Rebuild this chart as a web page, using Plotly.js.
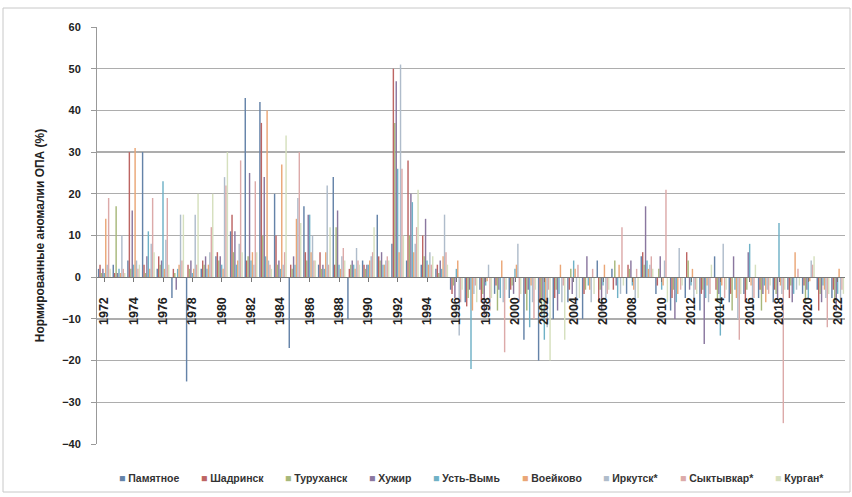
<!DOCTYPE html>
<html>
<head>
<meta charset="utf-8">
<script src="https://cdn.plot.ly/plotly-3.0.1.min.js"></script>
<style>html,body{margin:0;padding:0;background:#fff;}#chart{width:852px;height:497px;}</style>
</head>
<body>
<div id="chart"></div>
<script>
const years = [];
for (let y = 1972; y <= 2022; y++) years.push(y);

const seriesNames = ["Памятное", "Шадринск", "Туруханск", "Хужир", "Усть-Вымь", "Воейково", "Иркутск*", "Сыктывкар*", "Курган*"];

// values per year 1972..2022
const pamyatnoe = [2,3,4,30,2,-5,-25,2,5,11,43,42,20,-17,17,3,24,-10,4,15,8,4,3,2,-3,-6,-3,-4,-5,-15,-20,-10,-6,-10,4,2,-4,5,-4,-8,-5,-8,5,-6,-4,-5,-6,-3,-4,-3,-5];
const shadrinsk = [3,1,30,3,5,2,3,4,6,15,4,37,10,3,6,6,3,2,3,5,50,28,10,3,-4,-7,-6,-2,-3,-4,-6,-5,-3,-4,-6,-3,3,6,-2,-5,6,-4,-3,-4,-6,-3,-3,-5,-2,-8,-3];
const turukhansk = [1,17,2,1,3,1,2,3,4,6,5,10,3,2,4,2,12,3,2,4,37,10,5,1,-2,-5,-4,-8,-2,-8,-9,-3,2,-3,-3,4,2,3,2,-3,4,-3,-6,-8,-3,-8,-4,-2,-6,-4,-6];
const khuzhir = [2,1,16,5,4,-3,4,5,5,11,25,24,4,5,15,3,16,4,3,6,47,20,14,4,-5,-3,-9,-3,-4,-3,-5,-8,-4,5,-8,-2,4,17,5,-10,-3,-16,-4,5,6,-4,-5,-6,-3,-6,-8];
const ustVym = [1,2,3,11,23,2,1,2,3,3,4,5,2,3,15,2,3,3,3,3,26,18,4,2,2,-22,-2,-5,2,-12,-15,-4,4,-2,-2,-5,-2,4,-3,-6,-2,-5,-14,-3,8,-2,13,-4,-5,-2,-4];
const voeikovo = [14,1,31,2,2,3,2,3,2,4,6,40,27,14,6,6,2,2,4,3,6,6,3,5,4,-8,-1,4,3,-2,-8,3,2,-3,3,3,-3,2,-2,-4,2,-2,-2,-5,-2,-6,-2,6,-1,-3,2];
const irkutsk = [3,10,4,8,9,15,15,6,24,8,3,4,3,19,10,22,5,7,5,4,51,8,6,15,-14,-4,3,-6,8,-6,-12,-6,-8,-6,-5,-4,-6,3,4,7,-6,-6,8,-10,-8,-3,-4,-3,4,-5,-6];
const syktyvkar = [19,2,2,19,19,4,3,12,22,28,23,3,6,30,4,3,7,4,6,5,26,12,3,6,-6,-2,-8,-18,-6,-10,-3,-2,3,2,-4,12,2,5,21,-3,-3,-4,-5,-15,-5,-4,-35,2,3,-12,-3];
const kurgan = [2,1,3,6,3,15,20,20,30,6,6,2,34,13,4,12,4,3,12,4,10,21,5,3,-3,-6,-5,-3,-4,-3,-20,-15,-5,-4,-3,-2,-5,2,-6,-2,-4,3,-3,-4,3,-2,-3,-2,5,-4,-4];

const colors = ["#6483a8", "#bd6563", "#a7b87a", "#8a779f", "#6fb1c6", "#eaa676", "#afbccb", "#dcaaa9", "#d6e0be"];

const allSeries = [pamyatnoe, shadrinsk, turukhansk, khuzhir, ustVym, voeikovo, irkutsk, syktyvkar, kurgan];

const tickYears = years.filter(y => (y - 1972) % 2 === 0);

const traces = allSeries.map((vals, i) => ({
  type: "bar",
  name: seriesNames[i],
  x: years,
  y: vals,
  showlegend: false,
  marker: {color: colors[i], line: {width: 0}}
}));

const FAM = "Liberation Sans, Arial, sans-serif";
const boldFont = {family: FAM, size: 11, color: "#222", weight: "bold"};

// plot area in pixels
const L = 97, R = 845, T = 27, B = 444;
const px2x = p => (p - L) / (R - L);
const px2y = p => (B - p) / (B - T);

// manual legend (single row, like the reference)
const legFontSize = 10.5;
const cv = document.createElement("canvas").getContext("2d");
cv.font = "bold " + legFontSize + "px 'Liberation Sans'";
const widths = seriesNames.map(n => cv.measureText("■ " + n).width);
const legStart = 118, legEnd = 822, legY = 478;
const gap = (legEnd - legStart - widths.reduce((a, b) => a + b, 0)) / (seriesNames.length - 1);
const annotations = [];
let cx = legStart;
seriesNames.forEach((n, i) => {
  annotations.push({xref: "paper", yref: "paper", x: px2x(cx), y: px2y(legY),
    xanchor: "left", yanchor: "middle", showarrow: false,
    text: '<span style="color:' + colors[i] + '">■</span> ' + n,
    font: {family: FAM, size: legFontSize, color: "#333", weight: "bold"}, borderpad: 0});
  cx += widths[i] + gap;
});

// chart frame
const shapes = [{type: "rect", xref: "paper", yref: "paper",
  x0: px2x(3), x1: px2x(850), y0: px2y(492), y1: px2y(8),
  line: {color: "#c8c8c8", width: 1}, fillcolor: "rgba(0,0,0,0)", layer: "below"}];

const layout = {
  width: 852,
  height: 497,
  margin: {l: L, r: 852 - R, t: T, b: 497 - B},
  paper_bgcolor: "#fff",
  plot_bgcolor: "#fff",
  barmode: "group",
  bargap: 0.12,
  bargroupgap: 0,
  showlegend: false,
  xaxis: {
    type: "linear",
    range: [1971.5, 2022.5],
    anchor: "free",
    position: 0.4,
    tickmode: "array",
    tickvals: tickYears,
    ticktext: tickYears.map(String),
    tickangle: -90,
    ticks: "outside",
    ticklen: 4,
    tickcolor: "#777",
    ticklabelstandoff: 10,
    showline: true,
    linecolor: "#777",
    linewidth: 1,
    showgrid: false,
    zeroline: false,
    tickfont: {family: FAM, size: 12.5, color: "#222", weight: "bold"}
  },
  yaxis: {
    range: [-40, 60],
    dtick: 10,
    tick0: 0,
    ticks: "outside",
    ticklen: 5,
    tickcolor: "#999",
    ticklabelstandoff: 8,
    showline: true,
    linecolor: "#999",
    showgrid: true,
    gridcolor: "#adadad",
    gridwidth: 1.3,
    zeroline: false,
    tickfont: boldFont,
    title: {text: "Нормированные аномалии ОПА (%)", font: {family: FAM, size: 12, color: "#222", weight: "bold"}, standoff: 14}
  },
  shapes: shapes,
  annotations: annotations
};

Plotly.newPlot("chart", traces, layout, {displayModeBar: false, staticPlot: true});
</script>
</body>
</html>
